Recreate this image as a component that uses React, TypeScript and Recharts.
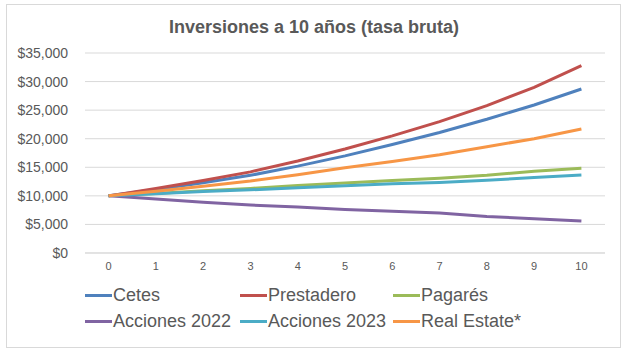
import React from 'react';
import { LineChart, Line, XAxis, YAxis, CartesianGrid } from 'recharts';

const years = [0, 1, 2, 3, 4, 5, 6, 7, 8, 9, 10];
const cetes = [10000, 11100, 12300, 13600, 15200, 17000, 19000, 21100, 23400, 25900, 28700];
const prestadero = [10000, 11300, 12700, 14200, 16100, 18200, 20500, 23000, 25800, 29000, 32800];
const pagares = [10000, 10400, 10900, 11300, 11800, 12250, 12700, 13100, 13600, 14300, 14850];
const acciones2022 = [10000, 9450, 8900, 8400, 8050, 7600, 7300, 7000, 6400, 6000, 5600];
const acciones2023 = [10000, 10350, 10750, 11050, 11400, 11750, 12100, 12350, 12750, 13200, 13650];
const realEstate = [10000, 10800, 11700, 12600, 13700, 14900, 16000, 17200, 18600, 20000, 21700];
const yTicks = [0, 5000, 10000, 15000, 20000, 25000, 30000, 35000];

const series = [
  { key: 'cetes', name: 'Cetes', color: '#4F81BD', values: cetes },
  { key: 'prestadero', name: 'Prestadero', color: '#C0504D', values: prestadero },
  { key: 'pagares', name: 'Pagarés', color: '#9BBB59', values: pagares },
  { key: 'acc22', name: 'Acciones 2022', color: '#8064A2', values: acciones2022 },
  { key: 'acc23', name: 'Acciones 2023', color: '#4BACC6', values: acciones2023 },
  { key: 'realEstate', name: 'Real Estate*', color: '#F79646', values: realEstate },
];

const data = years.map((y, i) => {
  const row: Record<string, number> = { year: y };
  series.forEach((s) => (row[s.key] = s.values[i]));
  return row;
});

const font = '"Liberation Sans", Arial, sans-serif';
const textColor = '#595959';

export default function App() {
  return (
    <div style={{ position: 'absolute', left: 0, top: 0, width: 628, height: 355, background: '#fff', fontFamily: font }}>
      <div style={{ position: 'absolute', left: 6, top: 4, width: 613, height: 342, border: '1px solid #d9d9d9' }} />
      <div style={{ position: 'absolute', left: 0, top: 17, width: 628, textAlign: 'center', fontSize: 18, fontWeight: 'bold', color: textColor }}>
        Inversiones a 10 años (tasa bruta)
      </div>
      <LineChart width={628} height={355} data={data} margin={{ top: 53, right: 23, bottom: 72, left: 0 }} style={{ position: 'absolute', left: 0, top: 0 }}>
        <CartesianGrid vertical={false} stroke="#d9d9d9" />
        <XAxis
          dataKey="year"
          height={30}
          padding={{ left: 23.6, right: 23.6 }}
          axisLine={{ stroke: '#d9d9d9' }}
          tickLine={false}
          tickSize={0}
          tickMargin={9}
          tick={{ fill: textColor, fontSize: 11, fontFamily: font }}
        />
        <YAxis
          width={85}
          domain={[0, 35000]}
          ticks={yTicks}
          axisLine={false}
          tickLine={false}
          tickSize={0}
          tickMargin={17}
          tickFormatter={(v: number) => '$' + v.toLocaleString('en-US')}
          tick={{ fill: textColor, fontSize: 14, fontFamily: font }}
        />
        {series.map((s) => (
          <Line
            key={s.key}
            type="linear"
            dataKey={s.key}
            name={s.name}
            stroke={s.color}
            strokeWidth={3}
            dot={false}
            isAnimationActive={false}
          />
        ))}
      </LineChart>
      <div style={{ position: 'absolute', left: 85, top: 285, display: 'grid', gridTemplateColumns: '155px 153px 150px', rowGap: 5 }}>
        {series.map((s) => (
          <div key={s.key} style={{ display: 'flex', alignItems: 'center', fontSize: 18, color: textColor, lineHeight: '21px', whiteSpace: 'nowrap' }}>
            <span style={{ display: 'inline-block', width: 27, height: 3, background: s.color, marginRight: 1 }} />
            {s.name}
          </div>
        ))}
      </div>
    </div>
  );
}
